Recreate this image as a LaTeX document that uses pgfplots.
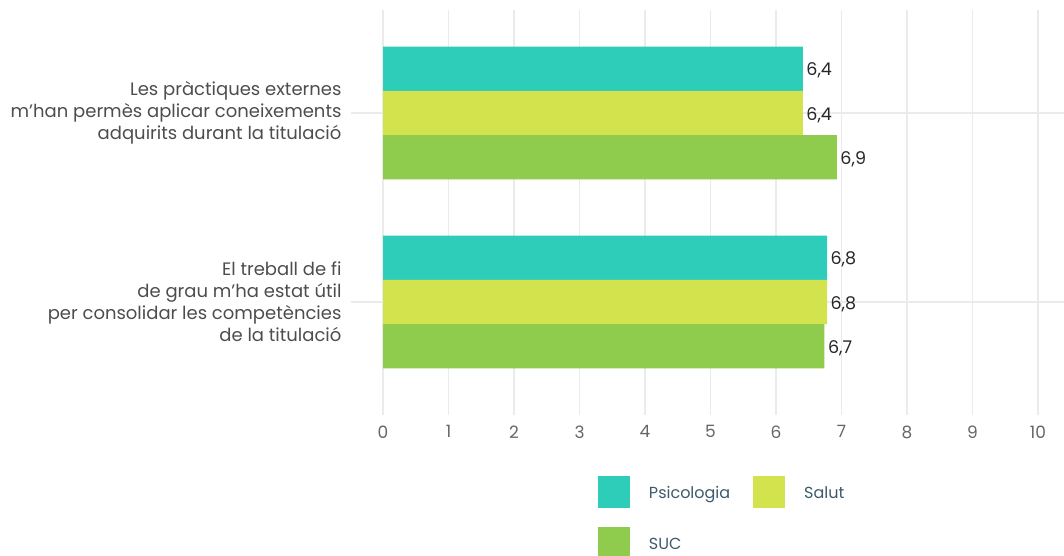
\documentclass[border=0pt]{standalone}
\usepackage{fontspec}
\setmainfont{Poppins}
\usepackage{pgfplots}
\pgfplotsset{compat=1.18}
\definecolor{cPsi}{HTML}{2ECDB9}
\definecolor{cSal}{HTML}{D2E34E}
\definecolor{cSUC}{HTML}{8FCB4C}
\definecolor{gridc}{HTML}{EBEBEB}
\definecolor{legtxt}{HTML}{3D5A6B}
\definecolor{ylab}{HTML}{4D4D4D}
\definecolor{xlab}{HTML}{666666}
\begin{document}
\begin{tikzpicture}
\begin{axis}[
 name=ax,
 scale only axis, width=713pt, height=405pt,
 xbar, bar width=44.3pt,
 xmin=-0.489, xmax=10.397, ymin=-0.598, ymax=1.545,
 clip=false,
 axis line style={draw=none},
 major tick length=0pt,
 xtick={0,...,10},
 ytick={0,1},
 yticklabels={{El treball de fi\\de grau m’ha estat útil\\per consolidar les competències\\de la titulació},{Les pràctiques externes\\m’han permès aplicar coneixements\\adquirits durant la titulació}},
 yticklabel style={align=right, font=\fontsize{18}{22}\selectfont, text=ylab, xshift=-6pt},
 xticklabel style={font=\fontsize{17}{19}\selectfont, text=xlab, yshift=-7pt},
 /pgf/number format/assume math mode=true,
 grid=major, grid style={gridc, line width=1.3pt},
 nodes near coords={\pgfmathprintnumber[fixed,fixed zerofill,precision=1,use comma,assume math mode=true]{\pgfplotspointmeta}},
 nodes near coords style={font=\fontsize{17.5}{19}\selectfont, text=black!85, anchor=west, yshift=-2pt},
 legend columns=2,
 legend style={at={(axis description cs:0.3464,-0.1506)}, anchor=north west, draw=none, fill=none, inner sep=0pt, outer sep=0pt, font=\fontsize{16}{17}\selectfont, text=legtxt, row sep=19pt, /tikz/every odd column/.append style={column sep=19pt}, /tikz/every even column/.append style={column sep=23pt}, nodes={inner sep=0pt, anchor=base west}},
 legend image code/.code={\fill[#1,draw=none] (0pt,-9pt) rectangle (32pt,23pt);},
]
\addplot[fill=cPsi, draw=none, bar shift=44.3pt] coordinates {(6.78,0) (6.41,1)};
\addlegendentry{Psicologia}
\addplot[fill=cSal, draw=none, bar shift=0pt] coordinates {(6.78,0) (6.41,1)};
\addlegendentry{Salut}
\addplot[fill=cSUC, draw=none, bar shift=-44.3pt] coordinates {(6.74,0) (6.93,1)};
\addlegendentry{SUC}
\end{axis}
\pgfresetboundingbox
\path (ax.south west) ++(-351pt,-141pt) rectangle ++(1064pt,556pt);
\end{tikzpicture}
\end{document}
